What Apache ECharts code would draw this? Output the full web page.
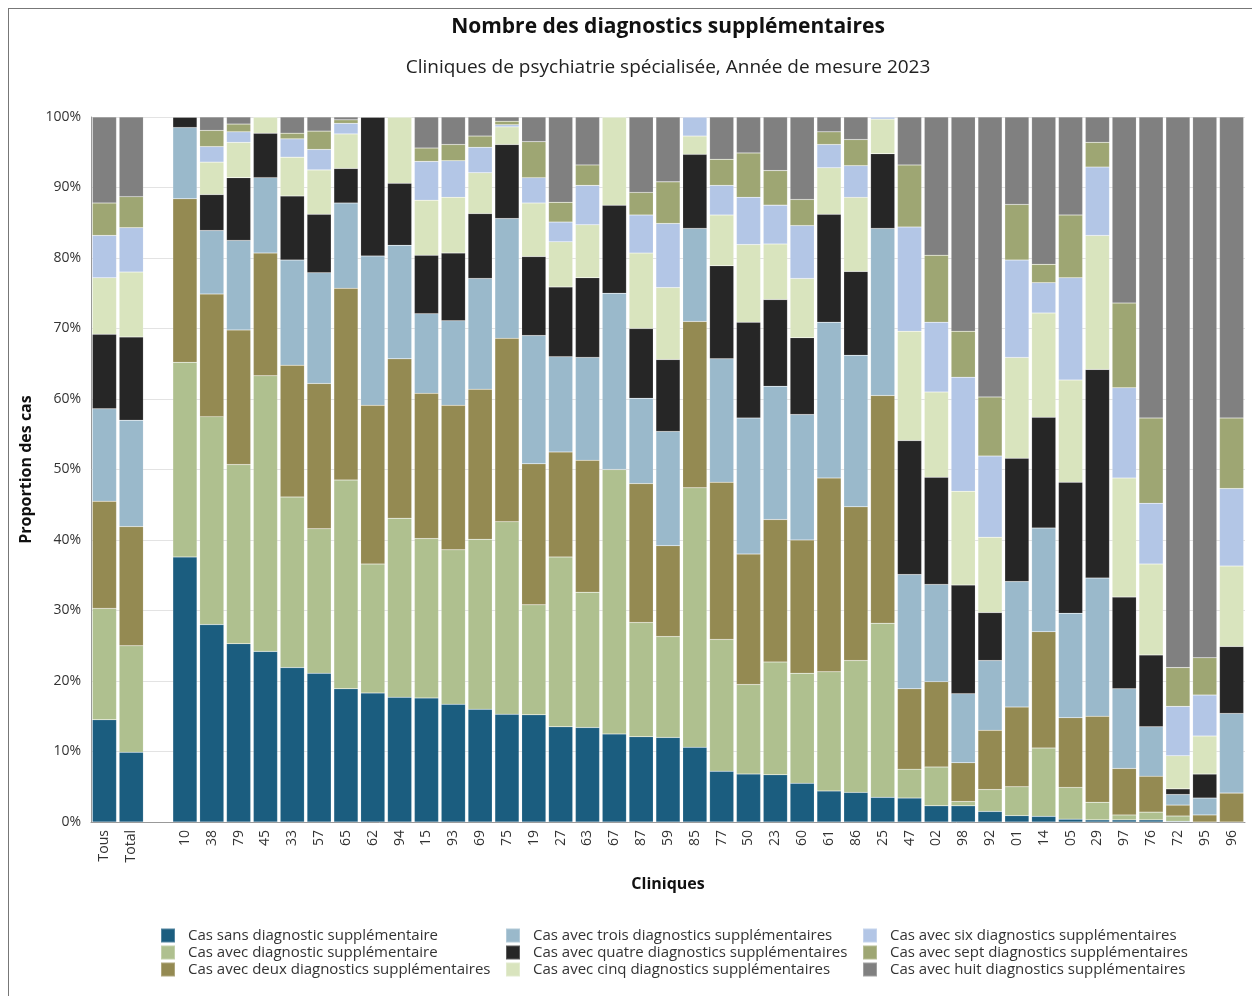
<!DOCTYPE html>
<html><head><meta charset="utf-8">
<script src="https://cdn.jsdelivr.net/npm/echarts@6/dist/echarts.min.js"></script>
<style>html,body{margin:0;padding:0;background:#fff}#c{width:1252px;height:996px}
#frame{position:absolute;left:8px;top:8px;width:1260px;height:1000px;border-left:1px solid #777;border-top:1px solid #777;pointer-events:none}</style>
</head><body><div id="c"></div><div id="frame"></div>
<script>
const categories = ['Tous','Total','','10','38','79','45','33','57','65','62','94','15','93','69','75','19','27','63','67','87','59','85','77','50','23','60','61','86','25','47','02','98','92','01','14','05','29','97','76','72','95','96'];
const seriesNames = ['Cas sans diagnostic supplémentaire','Cas avec diagnostic supplémentaire','Cas avec deux diagnostics supplémentaires','Cas avec trois diagnostics supplémentaires','Cas avec quatre diagnostics supplémentaires','Cas avec cinq diagnostics supplémentaires','Cas avec six diagnostics supplémentaires','Cas avec sept diagnostics supplémentaires','Cas avec huit diagnostics supplémentaires'];
const colors = ['#1b5d7f','#afc08f','#948a52','#9ab9cb','#262626','#d9e4be','#b3c6e6','#9ea673','#808080'];
// per-category segment values (%), order matches seriesNames
const sans   = [14.5,9.9,null,37.6,28.0,25.3,24.2,21.9,21.1,18.9,18.3,17.7,17.6,16.7,16.0,15.3,15.2,13.5,13.4,12.5,12.1,12.0,10.6,7.2,6.8,6.7,5.5,4.4,4.2,3.5,3.4,2.3,2.3,1.5,0.9,0.8,0.4,0.3,0.3,0.3,0.1,0,0];
const un     = [15.8,15.1,null,27.6,29.5,25.4,39.1,24.2,20.5,29.6,18.3,25.4,22.6,21.9,24.1,27.3,15.6,24.1,19.2,37.5,16.2,14.3,36.8,18.7,12.7,16.0,15.6,16.9,18.7,24.7,4.1,5.5,0.6,3.1,4.1,9.7,4.5,2.5,0.7,1.1,0.75,0,0];
const deux   = [15.2,16.9,null,23.2,17.4,19.1,17.4,18.7,20.6,27.2,22.5,22.6,20.6,20.5,21.3,26.0,20.0,14.9,18.7,0,19.7,12.9,23.6,22.3,18.5,20.2,18.9,27.5,21.8,32.3,11.4,12.1,5.5,8.4,11.3,16.5,9.9,12.2,6.6,5.1,1.55,1.0,4.1];
const trois  = [13.1,15.1,null,10.1,9.0,12.7,10.7,14.9,15.7,12.1,21.2,16.1,11.3,12.0,15.7,17.0,18.2,13.5,14.6,25.0,12.1,16.2,13.2,17.5,19.3,18.9,17.8,22.1,21.5,23.7,16.2,13.8,9.8,9.9,17.8,14.7,14.8,19.6,11.3,7.0,1.5,2.4,11.3];
const quatre = [10.6,11.8,null,1.5,5.1,8.9,6.3,9.1,8.3,4.9,19.7,8.8,8.3,9.6,9.2,10.5,11.2,9.9,11.3,12.5,9.9,10.2,10.5,13.2,13.6,12.3,10.9,15.3,11.9,10.6,19.0,15.2,15.4,6.8,17.5,15.7,18.6,29.6,13.0,10.2,0.8,3.4,9.5];
const cinq   = [8.0,9.2,null,0,4.6,5.0,2.3,5.5,6.3,4.9,0,9.4,7.8,7.9,5.8,2.5,7.6,6.4,7.5,12.5,10.7,10.2,2.6,7.2,11.0,7.9,8.4,6.6,10.5,4.9,15.5,12.1,13.3,10.7,14.3,14.8,14.5,19.0,16.9,12.9,4.7,5.4,11.4];
const six    = [6.0,6.3,null,0,2.2,1.5,0,2.6,2.9,1.5,0,0,5.5,5.2,3.6,0.3,3.6,2.8,5.6,0,5.4,9.1,2.7,4.2,6.7,5.5,7.5,3.3,4.5,0.3,14.8,9.9,16.2,11.5,13.8,4.3,14.5,9.7,12.8,8.6,7.0,5.8,11.0];
const sept   = [4.6,4.4,null,0,2.3,1.1,0,0.8,2.6,0.5,0,0,1.9,2.3,1.6,0.5,5.1,2.8,2.9,0,3.2,5.9,0,3.7,6.3,4.9,3.7,1.8,3.7,0,8.8,9.5,6.5,8.4,7.9,2.6,8.9,3.5,12.0,12.1,5.5,5.3,10.0];
const huit   = [12.2,11.3,null,0,1.9,1.0,0,2.3,2.0,0.4,0,0,4.4,3.9,2.7,0.6,3.5,12.1,6.8,0,10.7,9.2,0,6.0,5.1,7.6,11.7,2.1,3.2,0,6.8,19.6,30.4,39.7,12.4,20.9,13.9,3.6,26.4,42.7,78.1,76.7,42.7];
const yTicks = [0,10,20,30,40,50,60,70,80,90,100];

const values = [sans,un,deux,trois,quatre,cinq,six,sept,huit];
const FONT = '"Open Sans", "DejaVu Sans", sans-serif';
const chart = echarts.init(document.getElementById('c'));
const series = seriesNames.map((n,i)=>({
  name:n, type:'bar', stack:'all', data:values[i], barCategoryGap:'10%',
  itemStyle:{color:colors[i], borderColor:'rgba(255,255,255,0.25)', borderWidth:0.5},
  emphasis:{disabled:true}
}));
const legendBase = {orient:'vertical', itemWidth:14, itemHeight:14, itemGap:0, icon:'rect', padding:0,
  textStyle:{fontSize:15, color:'#333', fontFamily:FONT, padding:[0,0,0,8], lineHeight:17}, selectedMode:false};
chart.setOption({
  animation:false,
  color:colors,
  textStyle:{fontFamily:FONT},
  graphic:[
    {type:'text', x:668, y:17, style:{text:'Nombre des diagnostics supplémentaires', font:'bold 21px '+FONT, fill:'#111', textAlign:'center'}},
    {type:'text', x:668, y:58, style:{text:'Cliniques de psychiatrie spécialisée, Année de mesure 2023', font:'19px '+FONT, fill:'#222', textAlign:'center'}}
  ],
  grid:{left:91, right:7, top:117, bottom:174, containLabel:false},
  legend:[
    Object.assign({left:160, top:927, data:seriesNames.slice(0,3)}, legendBase),
    Object.assign({left:505, top:927, data:seriesNames.slice(3,6)}, legendBase),
    Object.assign({left:862, top:927, data:seriesNames.slice(6,9)}, legendBase)
  ],
  xAxis:{type:'category', data:categories, name:'Cliniques', nameLocation:'middle', nameGap:54,
    nameTextStyle:{fontSize:16, fontWeight:'bold', color:'#111', fontFamily:FONT},
    axisLine:{lineStyle:{color:'#999'}}, axisTick:{lineStyle:{color:'#999'}, length:6},
    axisLabel:{rotate:90, fontSize:14, color:'#333', interval:0, margin:8, fontFamily:FONT}},
  yAxis:{type:'value', min:yTicks[0], max:yTicks[yTicks.length-1], interval:10,
    name:'Proportion des cas', nameLocation:'middle', nameGap:56,
    nameTextStyle:{fontSize:16, fontWeight:'bold', color:'#111', fontFamily:FONT},
    axisLine:{show:true, lineStyle:{color:'#999'}}, axisTick:{show:false},
    axisLabel:{formatter:'{value}%', fontSize:14, color:'#333', margin:10, fontFamily:FONT},
    splitLine:{lineStyle:{color:'#e3e3e3'}}},
  series:series
});
</script></body></html>
